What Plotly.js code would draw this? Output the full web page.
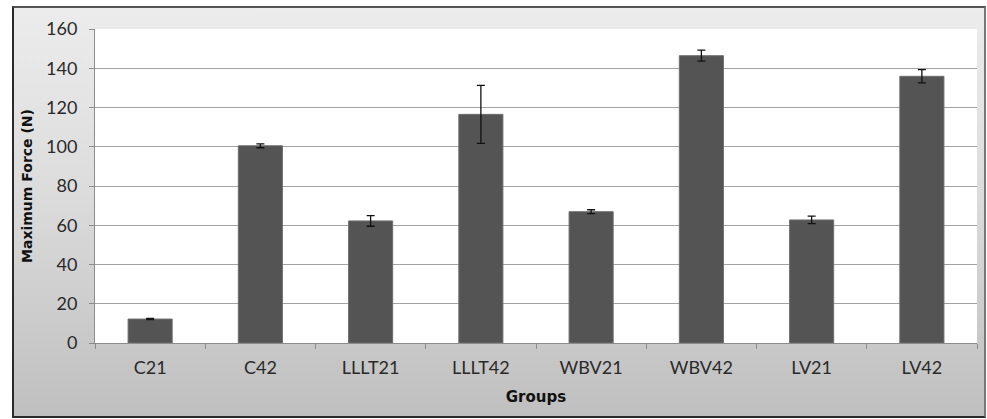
<!DOCTYPE html>
<html>
<head>
<meta charset="utf-8">
<script src="https://cdn.plot.ly/plotly-3.0.1.min.js"></script>
<style>
  html, body { margin: 0; padding: 0; background: #ffffff; }
  #wrap { position: absolute; left: 0; top: 0; width: 987px; height: 419px; background: #ffffff; }
  #frame { position: absolute; left: 12px; top: 6px; width: 970px; height: 408px;
           border: 2px solid #2a2a2a; border-top-color: #555; border-right-color: #777;
           background: linear-gradient(to bottom, #ececec 0%, #dcdcdc 45%, #bfbfbf 100%); }
  #chart { position: absolute; left: 0; top: 0; width: 987px; height: 419px; }
</style>
</head>
<body>
<div id="wrap">
  <div id="frame"></div>
  <div id="chart"></div>
</div>
<script>
const groups = ["C21", "C42", "LLLT21", "LLLT42", "WBV21", "WBV42", "LV21", "LV42"];
const maxForce = [12.2, 100.5, 62.2, 116.5, 66.9, 146.4, 62.7, 135.9];
const errorSD = [0.3, 1.0, 2.7, 14.8, 1.0, 2.8, 1.9, 3.4];
const yTicks = [0, 20, 40, 60, 80, 100, 120, 140, 160];

const trace = {
  type: "bar",
  x: groups,
  y: maxForce,
  width: 0.4,
  marker: { color: "#545454", line: { color: "#6e6e6e", width: 1 } },
  error_y: { type: "data", array: errorSD, visible: true, color: "#111111", thickness: 1.3, width: 4 },
  hoverinfo: "x+y"
};

const layout = {
  width: 987, height: 419,
  margin: { l: 95, r: 10, t: 29, b: 76 },
  paper_bgcolor: "rgba(0,0,0,0)",
  plot_bgcolor: "#ffffff",
  showlegend: false,
  font: { family: "Lato, 'Open Sans', sans-serif", color: "#2a2a2a" },
  xaxis: {
    type: "category",
    showline: true, linecolor: "#8c8c8c", linewidth: 1,
    ticks: "outside", tickson: "boundaries", ticklen: 5, tickcolor: "#8c8c8c",
    tickfont: { size: 18, color: "#2a2a2a" },
    ticklabelstandoff: 8,
    title: { text: "<b>Groups</b>", font: { family: "'DejaVu Sans', sans-serif", size: 15, color: "#111" }, standoff: 14 },
    fixedrange: true
  },
  yaxis: {
    range: [0, 160],
    tickvals: yTicks,
    showline: true, linecolor: "#8c8c8c", linewidth: 1,
    ticks: "outside", ticklen: 5, tickcolor: "#8c8c8c",
    showgrid: true, gridcolor: "#a2a2a2", gridwidth: 1,
    zeroline: false,
    tickfont: { size: 18, color: "#2a2a2a" },
    ticklabelstandoff: 8,
    title: { text: "<b>Maximum Force (N)</b>", font: { family: "'DejaVu Sans', sans-serif", size: 14, color: "#111" }, standoff: 10 },
    fixedrange: true
  }
};

Plotly.newPlot("chart", [trace], layout, { displayModeBar: false, staticPlot: true });
</script>
</body>
</html>
